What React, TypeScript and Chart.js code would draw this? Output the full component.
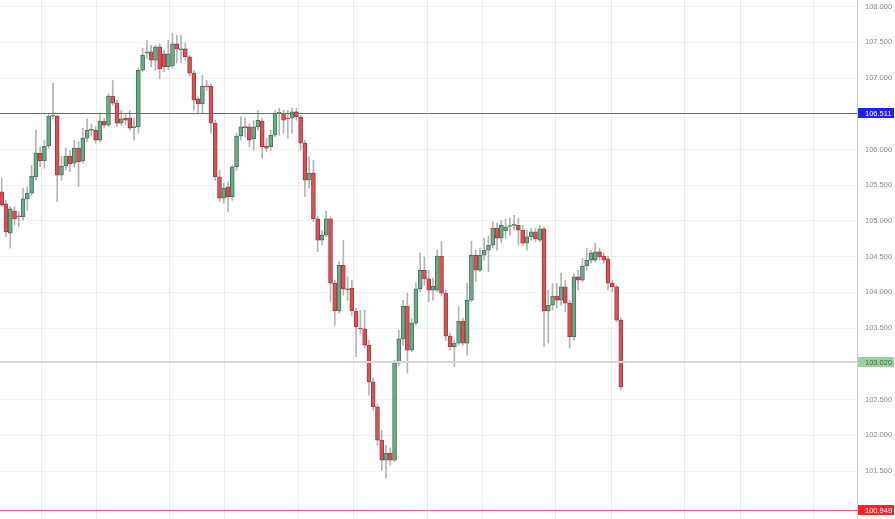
import React, { useEffect, useRef } from "react";
import { Chart, registerables } from "chart.js";

Chart.register(...registerables);

// ---- data ----
const opens = [
  105.41, 105.24, 104.83, 105.14, 105.07, 105.06, 105.31, 105.39, 105.62, 105.95,
  105.84, 106.05, 106.47, 106.47, 105.64, 105.77, 105.91, 105.81, 106.02, 105.84,
  106.16, 106.27, 106.27, 106.13, 106.40, 106.34, 106.75, 106.65, 106.37, 106.44,
  106.44, 106.31, 106.32, 107.11, 107.35, 107.37, 107.25, 107.44, 107.34, 107.16,
  107.17, 107.48, 107.41, 107.41, 107.30, 107.07, 106.71, 106.64, 106.89, 106.89,
  106.37, 105.62, 105.32, 105.48, 105.34, 105.76, 106.19, 106.32, 106.32, 106.15,
  106.32, 106.40, 106.05, 106.04, 106.20, 106.51, 106.51, 106.44, 106.44, 106.53,
  106.46, 106.09, 105.57, 105.67, 105.03, 104.73, 104.80, 105.03, 104.13, 103.74,
  104.38, 104.05, 104.06, 103.74, 103.50, 103.49, 103.26, 102.75, 102.40, 101.93,
  101.65, 101.75, 101.65, 103.01, 103.35, 103.81, 103.19, 103.57, 104.05, 104.31,
  104.19, 104.03, 104.03, 104.51, 103.99, 103.39, 103.24, 103.29, 103.60, 103.29,
  103.89, 104.52, 104.31, 104.52, 104.59, 104.66, 104.90, 104.76, 104.86, 104.93,
  104.94, 104.94, 104.87, 104.69, 104.78, 104.85, 104.73, 104.89, 103.74, 103.82,
  103.95, 103.89, 104.08, 103.85, 103.38, 104.22, 104.17, 104.37, 104.45, 104.45,
  104.57, 104.51, 104.47, 104.13, 104.08, 103.61,
];
const highs = [
  105.60, 105.29, 105.20, 105.20, 105.13, 105.46, 105.48, 105.78, 106.27, 106.04,
  106.13, 106.50, 106.93, 106.48, 105.91, 106.02, 105.99, 106.13, 106.11, 106.30,
  106.43, 106.36, 106.33, 106.51, 106.44, 106.78, 106.97, 106.69, 106.55, 106.50,
  106.55, 106.44, 107.14, 107.42, 107.53, 107.46, 107.46, 107.48, 107.39, 107.53,
  107.63, 107.60, 107.60, 107.49, 107.32, 107.11, 106.74, 107.04, 106.97, 106.92,
  106.41, 105.71, 105.53, 105.55, 105.78, 106.23, 106.46, 106.44, 106.36, 106.41,
  106.55, 106.44, 106.16, 106.27, 106.55, 106.58, 106.55, 106.55, 106.58, 106.58,
  106.48, 106.13, 105.90, 105.85, 105.07, 104.87, 105.14, 105.06, 104.17, 104.43,
  104.73, 104.22, 104.17, 103.78, 103.75, 103.75, 103.33, 102.80, 102.44, 102.07,
  101.86, 101.82, 103.05, 103.47, 103.89, 103.99, 103.64, 104.13, 104.55, 104.50,
  104.31, 104.20, 104.59, 104.71, 104.03, 103.43, 103.33, 103.80, 103.64, 104.13,
  104.72, 104.59, 104.62, 104.76, 104.79, 104.99, 104.97, 105.01, 105.03, 105.04,
  105.08, 105.04, 104.94, 104.87, 104.90, 104.90, 104.94, 104.92, 104.03, 104.13,
  104.13, 104.27, 104.17, 103.89, 104.26, 104.31, 104.48, 104.62, 104.59, 104.69,
  104.62, 104.55, 104.51, 104.17, 104.10, 103.64,
];
const lows = [
  105.20, 104.78, 104.62, 104.94, 104.92, 105.01, 105.15, 105.35, 105.57, 105.76,
  105.74, 106.02, 106.44, 105.27, 105.57, 105.71, 105.69, 105.76, 105.48, 105.81,
  106.11, 106.19, 106.09, 106.11, 106.30, 106.32, 106.62, 106.32, 106.34, 106.35,
  106.27, 106.13, 106.23, 107.09, 107.28, 107.16, 107.11, 106.99, 107.09, 107.12,
  107.14, 107.21, 107.21, 107.25, 107.03, 106.55, 106.51, 106.51, 106.83, 106.23,
  105.57, 105.27, 105.25, 105.13, 105.29, 105.71, 106.13, 106.18, 106.04, 105.99,
  106.27, 105.88, 105.97, 105.99, 106.18, 106.20, 106.23, 106.16, 106.23, 106.41,
  105.99, 105.34, 105.46, 104.99, 104.57, 104.66, 104.78, 103.87, 103.54, 103.71,
  103.96, 103.89, 103.68, 103.10, 103.42, 103.22, 102.56, 102.35, 101.86, 101.51,
  101.40, 101.58, 101.63, 102.98, 103.26, 102.87, 103.17, 103.54, 104.01, 104.10,
  103.87, 103.89, 104.01, 103.95, 103.33, 103.19, 102.96, 103.26, 103.26, 103.12,
  103.87, 104.15, 104.29, 104.45, 104.29, 104.62, 104.59, 104.69, 104.76, 104.80,
  104.87, 104.66, 104.66, 104.59, 104.73, 104.71, 104.71, 103.24, 103.29, 103.75,
  103.78, 103.82, 103.73, 103.22, 103.33, 104.03, 104.15, 104.31, 104.41, 104.43,
  104.45, 104.41, 104.03, 104.01, 103.59, 102.63,
];
const closes = [
  105.22, 104.85, 105.17, 105.03, 105.06, 105.31, 105.39, 105.63, 105.95, 105.84,
  106.05, 106.47, 106.48, 105.64, 105.77, 105.91, 105.80, 106.02, 105.83, 106.16,
  106.27, 106.28, 106.13, 106.40, 106.34, 106.75, 106.65, 106.37, 106.43, 106.41,
  106.30, 106.32, 107.11, 107.32, 107.37, 107.25, 107.44, 107.13, 107.16, 107.34,
  107.48, 107.41, 107.40, 107.30, 107.07, 106.69, 106.64, 106.89, 106.88, 106.37,
  105.62, 105.32, 105.46, 105.34, 105.76, 106.19, 106.32, 106.31, 106.13, 106.32,
  106.41, 106.04, 106.02, 106.20, 106.51, 106.52, 106.41, 106.43, 106.53, 106.46,
  106.09, 105.57, 105.67, 105.03, 104.73, 104.80, 105.03, 104.13, 103.74, 104.38,
  104.05, 104.04, 103.74, 103.52, 103.49, 103.26, 102.75, 102.40, 101.93, 101.65,
  101.75, 101.65, 103.01, 103.35, 103.81, 103.19, 103.57, 104.05, 104.31, 104.19,
  104.03, 104.09, 104.51, 103.99, 103.39, 103.24, 103.29, 103.60, 103.29, 103.89,
  104.52, 104.31, 104.52, 104.59, 104.66, 104.90, 104.76, 104.94, 104.92, 104.93,
  104.95, 104.87, 104.69, 104.78, 104.85, 104.75, 104.89, 103.74, 103.82, 103.95,
  103.89, 104.08, 103.85, 103.38, 104.22, 104.17, 104.37, 104.45, 104.55, 104.57,
  104.50, 104.45, 104.13, 104.08, 103.61, 102.68,
];

const yTickValues = [108, 107.5, 107, 106, 105.5, 105, 104.5, 104, 103.5, 102.5, 102, 101.5];
const xGridIndices = [9.4, 22.3, 39.2, 52.1, 69.4, 82.3, 99.6, 112.5, 129.6, 142.9, 160, 172.9, 190];
const levelValues = [106.511, 103.02, 100.949];
const levelLabels = ["106.511", "103.020", "100.949"];

const Y_MIN = 100.828;
const Y_MAX = 108.094;
const X_MIN = -0.4;
const X_MAX = 200.3;

const UP_FILL = "#6fa886";
const UP_EDGE = "#41795a";
const DOWN_FILL = "#d5525a";
const DOWN_EDGE = "#ab3a40";
const WICK = "#b4b4b4";

const levelStyles = [
  { line: "#5c5ce6", width: 1, bg: "#1f1ff2", text: "#ffffff" },
  { line: "#d6d6d6", width: 2, bg: "#9fd19f", text: "#2f6f36" },
  { line: "#e8607a", width: 1, bg: "#ff2323", text: "#ffffff" },
];

const levelPlugin = {
  id: "levels",
  afterDatasetsDraw(chart: any) {
    const { ctx, chartArea } = chart;
    const ys = chart.scales.y;
    ctx.save();
    levelValues.forEach((v, k) => {
      const st = levelStyles[k];
      let y = ys.getPixelForValue(v);
      y = st.width % 2 === 1 ? Math.round(y) + 0.5 : Math.round(y);
      ctx.strokeStyle = st.line;
      ctx.lineWidth = st.width;
      ctx.beginPath();
      ctx.moveTo(chartArea.left, y);
      ctx.lineTo(chartArea.right, y);
      ctx.stroke();
    });
    ctx.restore();
  },
  afterDraw(chart: any) {
    const { ctx, chartArea } = chart;
    const ys = chart.scales.y;
    ctx.save();
    levelValues.forEach((v, k) => {
      const st = levelStyles[k];
      const y = ys.getPixelForValue(v);
      const x0 = chartArea.right + 1;
      ctx.fillStyle = st.bg;
      ctx.fillRect(x0, Math.round(y - 5), 36, 10);
      ctx.fillStyle = st.text;
      ctx.font = "7.5px 'Liberation Sans', Arial, sans-serif";
      ctx.textBaseline = "middle";
      ctx.textAlign = "left";
      ctx.fillText(levelLabels[k], chartArea.right + 8, y + 0.5);
    });
    ctx.restore();
  },
};

export default function App() {
  const ref = useRef<HTMLCanvasElement | null>(null);

  useEffect(() => {
    if (!ref.current) return;
    const MIN_BODY = 0.014;
    const bodies = opens.map((o, i) => {
      const c = closes[i];
      let lo = Math.min(o, c);
      let hi = Math.max(o, c);
      if (hi - lo < MIN_BODY) {
        const m = (hi + lo) / 2;
        lo = m - MIN_BODY / 2;
        hi = m + MIN_BODY / 2;
      }
      return { x: i, y: [lo, hi] };
    });
    const wicks = highs.map((h, i) => ({ x: i, y: [lows[i], h] }));
    const up = opens.map((o, i) => closes[i] >= o);

    const chart = new Chart(ref.current, {
      type: "bar",
      data: {
        datasets: [
          {
            label: "body",
            data: bodies as any,
            backgroundColor: up.map((u) => (u ? UP_FILL : DOWN_FILL)),
            borderColor: up.map((u) => (u ? UP_EDGE : DOWN_EDGE)),
            borderWidth: 1,
            borderSkipped: false,
            barThickness: 4,
            grouped: false,
            order: 0,
          } as any,
          {
            label: "wick",
            data: wicks as any,
            backgroundColor: WICK,
            borderWidth: 0,
            barThickness: 1,
            grouped: false,
            order: 1,
          } as any,
        ],
      },
      options: {
        responsive: false,
        maintainAspectRatio: false,
        animation: false,
        devicePixelRatio: 1,
        layout: { padding: 0 },
        plugins: {
          legend: { display: false },
          tooltip: { enabled: false },
        },
        scales: {
          x: {
            type: "linear",
            min: X_MIN,
            max: X_MAX,
            offset: false,
            afterBuildTicks: (s: any) => {
              s.ticks = xGridIndices.map((v) => ({ value: v }));
            },
            afterFit: (s: any) => {
              s.height = 0;
              s.paddingLeft = 0;
              s.paddingRight = 0;
            },
            ticks: { display: false },
            grid: { color: "rgba(0,0,0,0.07)", drawTicks: false, offset: false },
            border: { display: false },
          },
          y: {
            type: "linear",
            position: "right",
            min: Y_MIN,
            max: Y_MAX,
            afterBuildTicks: (s: any) => {
              s.ticks = yTickValues.map((v) => ({ value: v }));
            },
            afterFit: (s: any) => {
              s.width = 38;
              s.paddingTop = 0;
              s.paddingBottom = 0;
            },
            ticks: {
              padding: 8,
              color: "#8c8c8c",
              font: { family: "'Liberation Sans', Arial, sans-serif", size: 7.5 },
              callback: (v: any) => Number(v).toFixed(3),
            },
            grid: { color: "rgba(0,0,0,0.045)", drawTicks: false },
            border: { color: "#cfcfcf" },
          },
        },
      },
      plugins: [levelPlugin],
    });
    return () => chart.destroy();
  }, []);

  return (
    <div
      style={{
        position: "fixed",
        left: 0,
        top: 0,
        width: 895,
        height: 519,
        background: "#ffffff",
      }}
    >
      <canvas ref={ref} width={895} height={519} style={{ display: "block" }} />
    </div>
  );
}
